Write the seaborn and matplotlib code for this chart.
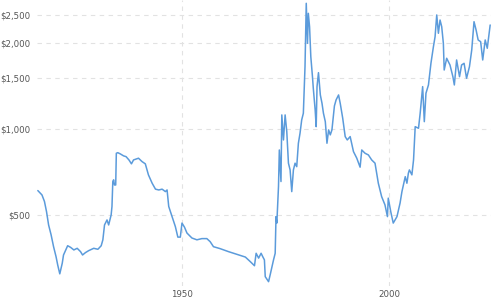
import matplotlib
matplotlib.use("Agg")
import matplotlib.pyplot as plt
import seaborn as sns
import pandas as pd
from matplotlib.ticker import FixedLocator, NullLocator

years = [
    1915.2, 1916.2, 1916.8, 1917.3, 1917.8, 1918.4, 1919.0, 1919.6, 1920.0, 1920.5,
    1921.1, 1921.4, 1922.4, 1923.1, 1923.9, 1924.7, 1925.5, 1926.0, 1926.7, 1927.5,
    1928.7, 1929.7, 1930.5, 1930.9, 1931.3, 1931.9, 1932.3, 1932.9, 1933.1, 1933.3,
    1933.5, 1933.7, 1934.0, 1934.15, 1934.5, 1935.1, 1935.9, 1936.5, 1937.2, 1937.8,
    1938.3, 1939.5, 1940.35, 1941.15, 1941.9, 1942.8, 1943.6, 1944.4, 1945.2, 1946.0,
    1946.4, 1946.8, 1947.6, 1948.4, 1949.0, 1949.6, 1950.0, 1950.6, 1951.2, 1952.4,
    1953.6, 1954.8, 1956.0, 1956.8, 1957.6, 1959.2, 1961.2, 1963.7, 1965.3, 1966.5,
    1967.5, 1967.9, 1968.5, 1969.1, 1969.5, 1969.9, 1970.1, 1970.9, 1971.3, 1972.1,
    1972.5, 1972.7, 1972.9, 1973.3, 1973.5, 1973.9, 1974.1, 1974.5, 1974.9, 1975.3,
    1975.7, 1976.1, 1976.5, 1976.9, 1977.3, 1977.7, 1978.1, 1978.5, 1978.9, 1979.3,
    1979.7, 1980.0, 1980.3, 1980.5, 1980.8, 1981.1, 1981.5, 1981.7, 1982.15, 1982.4,
    1982.6, 1982.95, 1983.4, 1983.8, 1984.15, 1984.6, 1985.0, 1985.4, 1985.8, 1986.2,
    1986.8, 1987.2, 1987.8, 1988.2, 1988.8, 1989.4, 1989.9, 1990.6, 1991.4, 1992.2,
    1993.0, 1993.4, 1994.2, 1995.0, 1995.8, 1996.6, 1997.4, 1998.2, 1999.0, 1999.6,
    1999.8, 2000.4, 2001.0, 2001.9, 2002.65, 2003.1, 2003.9, 2004.3, 2004.65, 2004.9,
    2005.5, 2005.9, 2006.3, 2007.1, 2007.5, 2008.1, 2008.5, 2008.9, 2009.5, 2010.1,
    2010.7, 2011.1, 2011.5, 2011.9, 2012.3, 2012.7, 2013.1, 2013.3, 2013.9, 2014.7,
    2015.4, 2015.75, 2016.3, 2017.0, 2017.5, 2018.1, 2018.7, 2019.4, 2019.95, 2020.5,
    2021.0, 2021.5, 2022.1, 2022.6, 2023.2, 2023.7, 2024.4,
]

prices = [
    608, 587, 557, 513, 461, 426, 387, 357, 334, 311,
    339, 362, 390, 385, 377, 382, 372, 362, 369, 375,
    382, 379, 390, 409, 461, 480, 461, 500, 535, 654,
    663, 636, 636, 821, 825, 817, 804, 799, 778, 754,
    778, 789, 768, 754, 690, 645, 615, 611, 615, 603,
    611, 535, 493, 455, 418, 418, 468, 453, 432, 415,
    409, 413, 413, 403, 387, 381, 372, 362, 356, 343,
    332, 367, 353, 367, 357, 348, 304, 292, 309, 348,
    367, 493, 468, 628, 843, 654, 1118, 914, 1118, 977,
    758, 718, 603, 718, 758, 737, 890, 965, 1074, 1133,
    1649, 2746, 1990, 2533, 2274, 1787, 1521, 1386, 1164, 1017,
    1404, 1571, 1313, 1228, 1133, 1059, 890, 991, 952, 991,
    1202, 1261, 1313, 1228, 1089, 939, 914, 939, 832, 789,
    734, 843, 821, 810, 778, 758, 645, 579, 542, 493,
    572, 513, 468, 493, 550, 603, 680, 645, 699, 718,
    690, 778, 1017, 1004, 1133, 1404, 1059, 1331, 1423, 1694,
    1937, 2099, 2500, 2157, 2400, 2274, 1990, 1605, 1764, 1671,
    1521, 1423, 1740, 1521, 1671, 1694, 1502, 1649, 1886, 2368,
    2215, 2044, 2016, 1740, 2044, 1912, 2306,
]

y_ticks = [500, 1000, 1500, 2000, 2500]
y_labels = ["$500", "$1,000", "$1,500", "$2,000", "$2,500"]
x_ticks = [1950, 2000]
x_labels = ["1950", "2000"]

df = pd.DataFrame({"year": years, "price": prices})

sns.set_style("white")
plt.rcParams["font.family"] = ["DejaVu Sans"]

fig = plt.figure(figsize=(4.93, 3.0), dpi=100)
ax = fig.add_axes([37 / 493, 14 / 300, (491 - 37) / 493, 286 / 300])

sns.lineplot(data=df, x="year", y="price", ax=ax, color="#5b9bdb",
             linewidth=1.1, estimator=None, sort=False)

ax.set_yscale("log")
ax.set_ylim(282, 2820)
ax.set_xlim(1915.0, 2024.6)

ax.yaxis.set_major_locator(FixedLocator(y_ticks))
ax.yaxis.set_minor_locator(NullLocator())
ax.set_yticklabels(y_labels)
ax.set_xticks(x_ticks)
ax.set_xticklabels(x_labels)

ax.tick_params(axis="both", length=0, labelsize=6.2, colors="#555555")
ax.tick_params(axis="y", pad=5)
ax.tick_params(axis="x", pad=3)

ax.grid(True, which="major", color="#e2e2e2", linestyle=(0, (4, 4)), linewidth=0.8)
ax.set_axisbelow(True)

for s in ax.spines.values():
    s.set_visible(False)

ax.set_xlabel("")
ax.set_ylabel("")

fig.savefig("out.png", dpi=100)
